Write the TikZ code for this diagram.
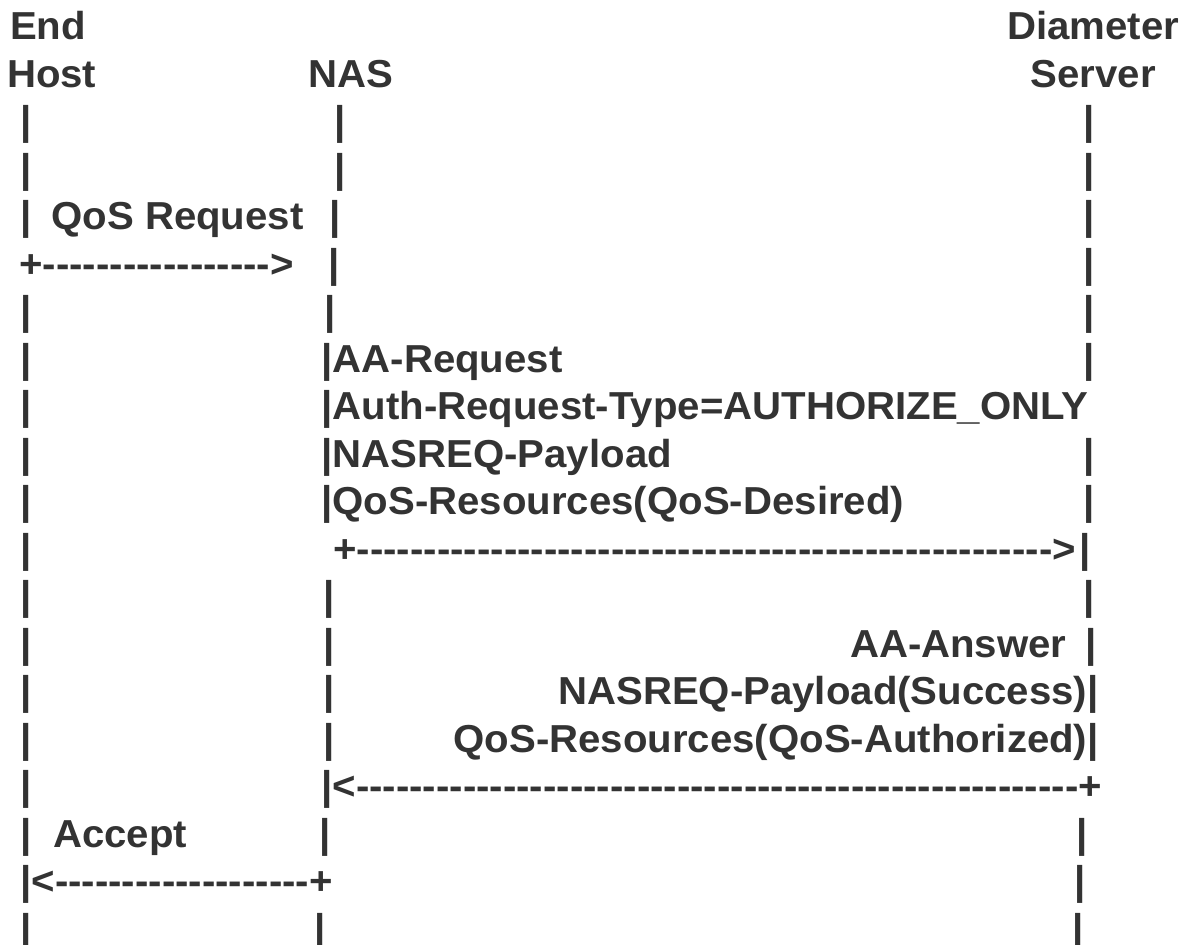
\documentclass[tikz,border=0pt]{standalone}
\usepackage{fontspec}
\usepackage{graphicx}
\newfontfamily\rfc{Liberation Sans Bold}[FakeStretch=1.03, Ligatures=TeXOff]
\definecolor{ink}{RGB}{51,51,51}
\ExplSyntaxOn
\NewDocumentCommand\dashes{m}{\prg_replicate:nn{#1}{-}}
\ExplSyntaxOff
\newcommand\vb{\scalebox{1}[1.03]{|}}
\begin{document}
\begin{tikzpicture}[x=1pt,y=-1pt,
  txt/.style={inner sep=0pt,outer sep=0pt,text=ink,font=\rfc\fontsize{39}{39}\selectfont},
  tw/.style={txt,anchor=base west},
  te/.style={txt,anchor=base east}]
\useasboundingbox[fill=white] (0,0) rectangle (1184,945);
% headers
\node[tw] (end)  at (10.1,39.5) {End};
\node[tw] (diam) at (1007.1,39.5) {Diameter};
\node[tw] (host) at (7.1,87) {Host};
\node[tw] (nas)  at (308.1,87) {NAS};
\node[tw] (srv)  at (1030.6,87) {Server};
% left column bars
\foreach \r/\y in {3/134.5,4/182,5/229.5,7/324.5,8/372,9/419.5,10/467,11/514.5,12/562,13/609.5,14/657,15/704.5,16/752,17/799.5,18/847,20/942}
  \node[tw] (lb\r) at (20.4,\y) {\vb};
% NAS column bars
\foreach \r/\x/\y in {3/334.4/134.5,4/334.4/182,5/329.4/229.5,6/328.4/277,7/324/324.5,13/323.4/609.5,14/323.4/657,15/323.4/704.5,16/323.4/752,18/319.4/847,20/314.4/942}
  \node[tw] (nb\r) at (\x,\y) {\vb};
% server column bars
\foreach \r/\x/\y in {3/1083.4/134.5,4/1083.4/182,5/1083.4/229.5,6/1083.4/277,7/1083.4/324.5,8/1083.4/372,10/1083.4/467,11/1083.4/514.5,12/1079.4/562,13/1083.4/609.5,14/1085.4/657,18/1076.4/847,19/1074.4/894.5,20/1072.4/942}
  \node[tw] (sb\r) at (\x,\y) {\vb};
% messages
\node[tw] (qreq) at (51.4,229.5) {QoS Request};
\node[tw] (qarr) at (19.4,277) {+\dashes{17}>};
\node[tw] (aar1) at (321.4,372) {\vb AA-Request};
\node[tw] (aar2) at (321.4,419.5) {\vb Auth-Request-Type=AUTHORIZE\_ONLY};
\node[tw] (aar3) at (321.4,467) {\vb NASREQ-Payload};
\node[tw] (aar4) at (321.4,514.5) {\vb QoS-Resources(QoS-Desired)};
\node[tw] (aarr) at (333.4,562) {+\dashes{52}>};
\node[tw] (aaa1) at (850,657) {AA-Answer};
\node[te] (aaa2) at (1098.6,704.5) {NASREQ-Payload(Success)\vb};
\node[te] (aaa3) at (1098.6,752) {QoS-Resources(QoS-Authorized)\vb};
\node[tw] (aaar) at (321.4,799.5) {\vb<\dashes{54}+};
\node[tw] (acc)  at (53,847) {Accept};
\node[tw] (accr) at (20.4,894.5) {\vb<\dashes{19}+};
\end{tikzpicture}
\end{document}
